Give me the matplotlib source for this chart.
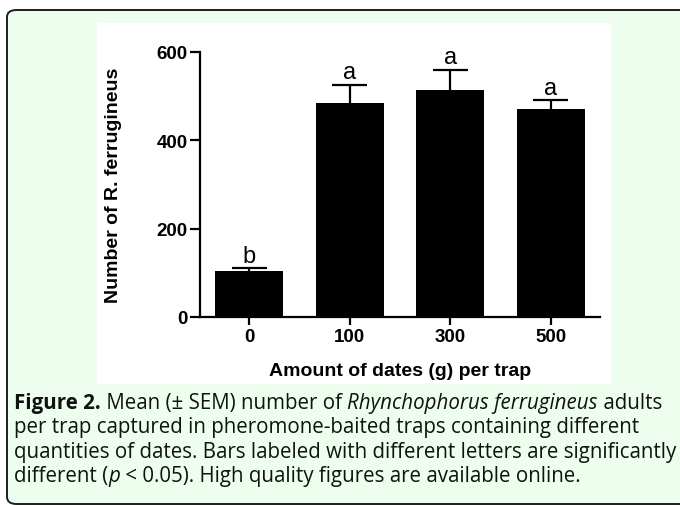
import matplotlib
matplotlib.use("Agg")
import matplotlib.pyplot as plt
import numpy as np
from matplotlib.patches import FancyBboxPatch, Rectangle

# data
doses = ["0", "100", "300", "500"]
means = [104, 484, 514, 471]
sem = [7, 42, 46, 20]
letters = ["b", "a", "a", "a"]
yticks = [0, 200, 400, 600]

caption_lines = [
    [("Figure 2.", "bold", "normal"), (" Mean (± SEM) number of ", "normal", "normal"),
     ("Rhynchophorus ferrugineus", "normal", "italic"), (" adults", "normal", "normal")],
    [("per trap captured in pheromone-baited traps containing different", "normal", "normal")],
    [("quantities of dates. Bars labeled with different letters are significantly", "normal", "normal")],
    [("different (", "normal", "normal"), ("p", "normal", "italic"),
     (" < 0.05). High quality figures are available online.", "normal", "normal")],
]

W, H = 680, 506
fig = plt.figure(figsize=(W / 100, H / 100), dpi=100)
fig.patch.set_facecolor("white")


def px(x, y):
    """pixel (from top-left) -> figure fraction"""
    return x / W, 1 - y / H


# outer rounded box
x0, y0 = px(7, 505)
box = FancyBboxPatch((x0, y0), (700 - 7) / W, (505 - 11) / H,
                     boxstyle="round,pad=0,rounding_size=0.014",
                     transform=fig.transFigure, facecolor="#edfeee",
                     edgecolor="#1e1e1e", linewidth=1.4, zorder=0)
fig.patches.append(box)

# white panel behind chart
wx, wy = px(97, 385)
fig.patches.append(Rectangle((wx, wy), (611 - 97) / W, (385 - 24) / H,
                             transform=fig.transFigure, facecolor="white",
                             edgecolor="none", zorder=0.5))

ax = fig.add_axes([200 / W, 1 - 318 / H, 400 / W, (318 - 53) / H])
ax.set_facecolor("none")
ax.set_zorder(2)

xpos = np.arange(len(doses))
tops = np.array(means) + np.array(sem)
ax.bar(xpos, means, width=0.68, color="black", zorder=2)
# upper-only SEM whiskers, GraphPad style
ax.vlines(xpos, means, tops, color="black", linewidth=1.6, zorder=1)
ax.hlines(tops, xpos - 0.175, xpos + 0.175, color="black", linewidth=1.6, zorder=1)
for i, (t, l) in enumerate(zip(tops, letters)):
    ax.annotate(l, (i, t), xytext=(0, 1), textcoords="offset points",
                ha="center", va="bottom", fontsize=17,
                family="Liberation Sans")

ax.set_xlim(-0.49, 3.49)
ax.set_ylim(0, 600)
ax.set_xticks(xpos)
ax.set_xticklabels(doses)
ax.set_yticks(yticks)
for s in ("top", "right"):
    ax.spines[s].set_visible(False)
for s in ("left", "bottom"):
    ax.spines[s].set_linewidth(1.6)
ax.tick_params(axis="both", width=1.6, labelsize=13.5, pad=2)
ax.tick_params(axis="y", length=7)
ax.tick_params(axis="x", length=6)
for lab in ax.get_xticklabels() + ax.get_yticklabels():
    lab.set_family("Liberation Sans")
    lab.set_fontweight("bold")

fig.text(400 / W, 1 - 372 / H, "Amount of dates (g) per trap", ha="center",
         va="center", fontsize=14, fontweight="bold", family="Liberation Sans")
fig.text(114 / W, 1 - 185 / H, "Number of R. ferrugineus", ha="center",
         va="center", rotation=90, fontsize=14, fontweight="bold",
         family="Liberation Sans")

# caption, pieced together so bold/italic runs sit inline
fig.canvas.draw()
renderer = fig.canvas.get_renderer()

# size the caption font so the third line spans the box like the original
probe = fig.text(0, 0, caption_lines[2][0][0], fontsize=10, family="Open Sans")
cap_size = 10 * 664 / probe.get_window_extent(renderer).width
probe.remove()

baselines = [409, 433, 458, 482]
for line, base in zip(caption_lines, baselines):
    x = 14
    for txt, weight, style in line:
        t = fig.text(x / W, 1 - base / H, txt, ha="left", va="baseline",
                     fontsize=cap_size, fontweight=weight, fontstyle=style,
                     family="Open Sans", color="#111111")
        x += t.get_window_extent(renderer).width

fig.savefig("out.png", dpi=100)
